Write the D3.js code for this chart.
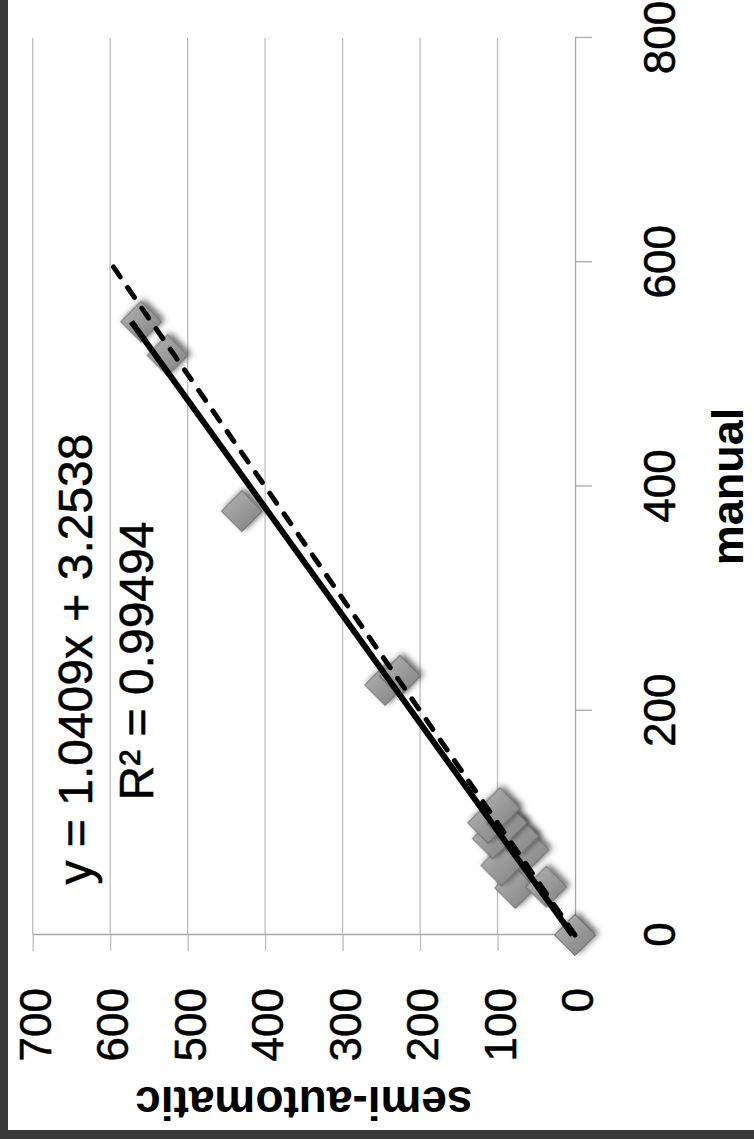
<!DOCTYPE html>
<html>
<head>
<meta charset="utf-8">
<script src="https://cdn.jsdelivr.net/npm/d3@7"></script>
<style>
  html, body { margin: 0; padding: 0; background: #fff; }
  svg { display: block; }
</style>
</head>
<body>
<div id="chart"></div>
<script>
// Paired measurements: manual count vs semi-automatic count
const manualVals = [0, 42, 43, 62, 76, 86, 88, 100, 100, 113, 223, 231, 378, 517, 547];
const semiVals   = [0, 77, 37, 95, 60, 106, 73, 112, 88, 97, 245, 226, 430, 526, 560];

const manualTicks = [0, 200, 400, 600, 800];
const semiTicks = [0, 100, 200, 300, 400, 500, 600, 700];

// Linear trendline as reported in the label
const fitSlope = 1.0409;
const fitIntercept = 3.2538;
const rSquared = "0.99494";
const identityEnd = 600;

const W = 754, H = 1139;
const FONT = "'Liberation Sans', Arial, sans-serif";

const svg = d3.select("#chart").append("svg")
  .attr("width", W).attr("height", H);

// dark page frame with white sheet
svg.append("rect").attr("width", W).attr("height", H).attr("fill", "#3a3a3a");
svg.append("rect").attr("x", 8).attr("y", 0).attr("width", W - 8).attr("height", 1130).attr("fill", "#fff");

const defs = svg.append("defs");
const grad = defs.append("linearGradient").attr("id", "diamondFill")
  .attr("x1", 1).attr("y1", 0).attr("x2", 0).attr("y2", 1);
grad.append("stop").attr("offset", "0%").attr("stop-color", "#b5b5b5");
grad.append("stop").attr("offset", "100%").attr("stop-color", "#7f7f7f");

const shadow = defs.append("filter").attr("id", "markerShadow")
  .attr("x", "-50%").attr("y", "-50%").attr("width", "200%").attr("height", "200%");
shadow.append("feGaussianBlur").attr("in", "SourceAlpha").attr("stdDeviation", 3).attr("result", "blur");
shadow.append("feOffset").attr("in", "blur").attr("dx", 2).attr("dy", 3).attr("result", "off");
shadow.append("feComponentTransfer").attr("in", "off").attr("result", "soft")
  .append("feFuncA").attr("type", "linear").attr("slope", 0.6);
const merge = shadow.append("feMerge");
merge.append("feMergeNode").attr("in", "soft");
merge.append("feMergeNode").attr("in", "SourceGraphic");

// The chart is laid out in landscape and turned a quarter turn counter-clockwise
const g = svg.append("g").attr("transform", `translate(0,${H}) rotate(-90)`);

const x = d3.scaleLinear().domain([0, 800]).range([204, 1101]);
const y = d3.scaleLinear().domain([0, 700]).range([575, 32.7]);

// horizontal gridlines
g.append("g").selectAll("line")
  .data(semiTicks.filter(d => d > 0))
  .join("line")
  .attr("x1", x(0)).attr("x2", x(800))
  .attr("y1", d => y(d)).attr("y2", d => y(d))
  .attr("stroke", "#bdbdbd").attr("stroke-width", 1.3);

// value axis (semi-automatic)
const yAxis = g.append("g")
  .attr("transform", `translate(${x(0)},0)`)
  .call(d3.axisLeft(y).tickValues(semiTicks).tickSize(16).tickSizeOuter(0).tickPadding(37));
yAxis.select(".domain").attr("stroke", "#a8a8a8").attr("stroke-width", 1.3);
yAxis.selectAll(".tick line").attr("stroke", "#bdbdbd").attr("stroke-width", 1.3);
yAxis.selectAll(".tick text")
  .attr("font-family", FONT).attr("font-size", 44).attr("fill", "#000")
  .attr("stroke", "#000").attr("stroke-width", 0.5)
  .attr("dy", "0.4em");

// category axis (manual)
const xAxis = g.append("g")
  .attr("transform", `translate(0,${y(0)})`)
  .call(d3.axisBottom(x).tickValues(manualTicks).tickSize(17).tickSizeOuter(0));
xAxis.select(".domain").attr("stroke", "#a8a8a8").attr("stroke-width", 1.3);
xAxis.selectAll(".tick line").attr("stroke", "#a8a8a8").attr("stroke-width", 1.3);
xAxis.selectAll(".tick text")
  .attr("font-family", FONT).attr("font-size", 44).attr("fill", "#000")
  .attr("stroke", "#000").attr("stroke-width", 0.5)
  .attr("y", 100).attr("dy", "0");

// diamond markers
const diamond = {
  draw(ctx, size) {
    const r = Math.sqrt(size / 2);
    ctx.moveTo(0, -r); ctx.lineTo(r, 0); ctx.lineTo(0, r); ctx.lineTo(-r, 0); ctx.closePath();
  }
};
const pts = manualVals.map((m, i) => ({ m, s: semiVals[i] }));
g.append("g").selectAll("path")
  .data(pts)
  .join("path")
  .attr("d", d3.symbol().type(diamond).size(840))
  .attr("transform", d => `translate(${x(d.m)},${y(d.s)})`)
  .attr("fill", "url(#diamondFill)")
  .attr("stroke", "#5c5c5c").attr("stroke-width", 1)
  .attr("filter", "url(#markerShadow)");

// identity line y = x
const line = d3.line().x(d => x(d[0])).y(d => y(d[1]));
g.append("path")
  .attr("d", line([[0, 0], [identityEnd, identityEnd]]))
  .attr("fill", "none").attr("stroke", "#000").attr("stroke-width", 5)
  .attr("stroke-dasharray", "12,13").attr("stroke-linecap", "round");

// fitted trendline over the data range
const maxManual = d3.max(manualVals);
g.append("path")
  .attr("d", line([[0, fitIntercept], [maxManual, fitSlope * maxManual + fitIntercept]]))
  .attr("fill", "none").attr("stroke", "#000").attr("stroke-width", 6);

// trendline label
const label = g.append("g").attr("font-family", FONT).attr("font-size", 48).attr("fill", "#000")
  .attr("stroke", "#000").attr("stroke-width", 0.5)
  .attr("text-anchor", "middle");
label.append("text").attr("x", 480).attr("y", 92)
  .text(`y = ${fitSlope}x + ${fitIntercept}`);
label.append("text").attr("x", 478).attr("y", 153)
  .text(`R² = ${rSquared}`);

// axis titles
g.append("text")
  .attr("x", x(400)).attr("y", 743)
  .attr("text-anchor", "middle")
  .attr("font-family", FONT).attr("font-weight", "bold").attr("font-size", 45)
  .text("manual");

g.append("text")
  .attr("transform", `translate(52,${y(350)}) rotate(-90)`)
  .attr("text-anchor", "middle")
  .attr("font-family", FONT).attr("font-weight", "bold").attr("font-size", 46)
  .text("semi-automatic");
</script>
</body>
</html>
